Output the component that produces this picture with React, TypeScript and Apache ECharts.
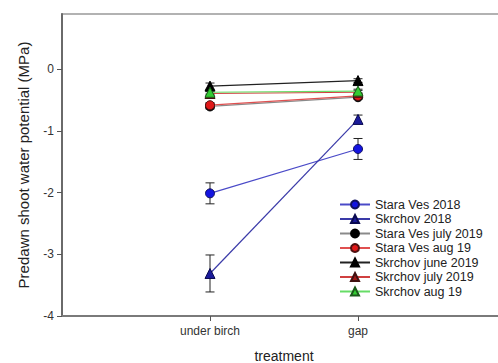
import React, { useEffect, useRef } from "react";
import * as echarts from "echarts";

const categories = ["under birch", "gap"];
const xPositions = [1, 2];
const yTicks = [-4, -3, -2, -1, 0];

const seriesNames = [
  "Stara Ves 2018",
  "Skrchov 2018",
  "Stara Ves july 2019",
  "Stara Ves aug 19",
  "Skrchov june 2019",
  "Skrchov july 2019",
  "Skrchov aug 19",
];
const staraVes2018 = [-2.01, -1.29];
const staraVes2018Se = [0.17, 0.17];
const skrchov2018 = [-3.31, -0.81];
const skrchov2018Se = [0.3, 0.07];
const staraVesJuly2019 = [-0.6, -0.45];
const staraVesJuly2019Se = [0.04, 0.03];
const staraVesAug19 = [-0.58, -0.43];
const staraVesAug19Se = [0.04, 0.03];
const skrchovJune2019 = [-0.27, -0.18];
const skrchovJune2019Se = [0.05, 0.03];
const skrchovJuly2019 = [-0.39, -0.37];
const skrchovJuly2019Se = [0.03, 0.03];
const skrchovAug19 = [-0.37, -0.35];
const skrchovAug19Se = [0.03, 0.03];

const FONT = "'Liberation Sans', Arial, sans-serif";

export default function App() {
  const ref = useRef<HTMLDivElement>(null);
  useEffect(() => {
    if (!ref.current) return;
    const chart = echarts.init(ref.current, undefined, { renderer: "svg" });

    const values = [
      staraVes2018,
      skrchov2018,
      staraVesJuly2019,
      staraVesAug19,
      skrchovJune2019,
      skrchovJuly2019,
      skrchovAug19,
    ];
    const errs = [
      staraVes2018Se,
      skrchov2018Se,
      staraVesJuly2019Se,
      staraVesAug19Se,
      skrchovJune2019Se,
      skrchovJuly2019Se,
      skrchovAug19Se,
    ];
    const styles = [
      { symbol: "circle", line: "#4a4ac8", fill: "#1414e0", border: "#101060" },
      { symbol: "triangle", line: "#3a3aa8", fill: "#1a1a9a", border: "#0a0a50" },
      { symbol: "circle", line: "#8a8a8a", fill: "#000000", border: "#000000" },
      { symbol: "circle", line: "#e05050", fill: "#e01818", border: "#501010" },
      { symbol: "triangle", line: "#222222", fill: "#000000", border: "#000000" },
      { symbol: "triangle", line: "#d04040", fill: "#a01818", border: "#401010" },
      { symbol: "triangle", line: "#66dd66", fill: "#33cc33", border: "#1a5a1a" },
    ];

    const errData: number[][] = [];
    values.forEach((v, i) => {
      v.forEach((y, j) => {
        errData.push([xPositions[j], y - errs[i][j], y + errs[i][j]]);
      });
    });

    const lineSeries = seriesNames.map((name, i) => ({
      name,
      type: "line",
      z: 3 + i,
      data: values[i].map((y, j) => [xPositions[j], y]),
      symbol: styles[i].symbol,
      symbolSize: styles[i].symbol === "circle" ? 9 : 10,
      lineStyle: { color: styles[i].line, width: 1.2 },
      itemStyle: { color: styles[i].fill, borderColor: styles[i].border, borderWidth: 1 },
    }));

    chart.setOption({
      animation: false,
      backgroundColor: "#ffffff",
      textStyle: { fontFamily: FONT },
      grid: {
        left: 62,
        top: 14,
        width: 444,
        height: 302,
        outerBoundsMode: "none",
        containLabel: false,
        show: true,
        borderColor: "#999999",
        borderWidth: 1.5,
        backgroundColor: "transparent",
      },
      legend: {
        orient: "vertical",
        left: 339,
        top: 198,
        itemWidth: 30,
        itemHeight: 10,
        itemGap: 1.5,
        padding: 0,
        data: seriesNames,
        textStyle: { fontFamily: FONT, fontSize: 12.5, color: "#222" },
      },
      xAxis: {
        type: "value",
        min: 0,
        max: 3,
        interval: 1,
        name: "treatment",
        nameLocation: "middle",
        nameGap: 33,
        nameTextStyle: { fontFamily: FONT, fontSize: 14, color: "#222" },
        splitLine: { show: false },
        axisLine: { show: true, onZero: false, lineStyle: { color: "#7a7a7a", width: 2 } },
        axisTick: {
          show: true,
          customValues: xPositions,
          length: 5,
          inside: false,
          lineStyle: { color: "#555", width: 1 },
        },
        axisLabel: {
          customValues: xPositions,
          formatter: (v: number) => {
            const idx = xPositions.indexOf(v);
            return idx >= 0 ? categories[idx] : "";
          },
          margin: 9,
          fontFamily: FONT,
          fontSize: 12,
          color: "#333",
        },
      },
      yAxis: {
        type: "value",
        min: -4,
        max: 0.9,
        interval: 1,
        name: "Predawn shoot water potential (MPa)",
        nameLocation: "middle",
        nameGap: 31,
        nameTextStyle: { fontFamily: FONT, fontSize: 15, color: "#222" },
        splitLine: { show: false },
        axisLine: { show: true, onZero: false, lineStyle: { color: "#6a6a6a", width: 2 } },
        axisTick: {
          show: true,
          customValues: yTicks,
          length: 5,
          lineStyle: { color: "#555", width: 1 },
        },
        axisLabel: {
          customValues: yTicks,
          margin: 8,
          fontFamily: FONT,
          fontSize: 12,
          color: "#333",
        },
      },
      series: [
        {
          type: "custom",
          z: 1,
          silent: true,
          data: errData,
          renderItem: (params: any, api: any) => {
            const x = api.value(0);
            const lo = api.value(1);
            const hi = api.value(2);
            const pTop = api.coord([x, hi]);
            const pBot = api.coord([x, lo]);
            const hw = 4.5;
            const st = { stroke: "#222", lineWidth: 1 };
            return {
              type: "group",
              children: [
                { type: "line", shape: { x1: pTop[0], y1: pTop[1], x2: pBot[0], y2: pBot[1] }, style: st },
                { type: "line", shape: { x1: pTop[0] - hw, y1: pTop[1], x2: pTop[0] + hw, y2: pTop[1] }, style: st },
                { type: "line", shape: { x1: pBot[0] - hw, y1: pBot[1], x2: pBot[0] + hw, y2: pBot[1] }, style: st },
              ],
            };
          },
        },
        ...lineSeries,
      ],
    });
    return () => chart.dispose();
  }, []);

  return (
    <div
      ref={ref}
      style={{ position: "fixed", left: 0, top: 0, width: 498, height: 363 }}
    />
  );
}
